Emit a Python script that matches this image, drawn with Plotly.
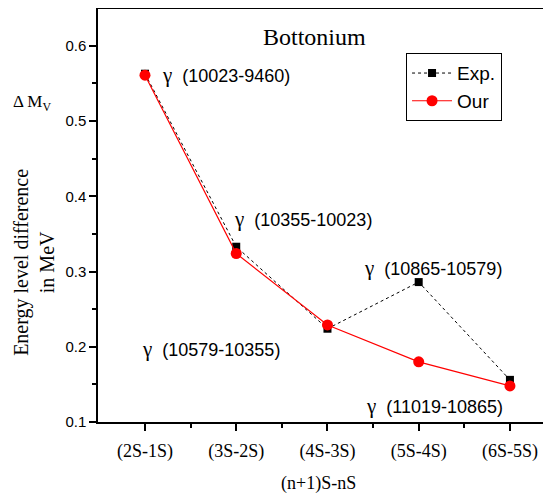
import plotly.graph_objects as go

categories = ["(2S-1S)", "(3S-2S)", "(4S-3S)", "(5S-4S)", "(6S-5S)"]
positions = [1, 2, 3, 4, 5]
exp_values = [0.563, 0.333, 0.224, 0.286, 0.156]
our_values = [0.561, 0.324, 0.229, 0.180, 0.148]
labels = ["(10023-9460)", "(10355-10023)", "(10579-10355)",
          "(10865-10579)", "(11019-10865)"]
label_pos = [(1.16, 0.561), (1.95, 0.370), (0.945, 0.197), (3.38, 0.305), (3.40, 0.121)]

SERIF = "Liberation Serif, Times New Roman, serif"
SANS = "Liberation Sans, Arial, sans-serif"

fig = go.Figure()
fig.add_trace(go.Scatter(x=positions, y=exp_values, name="Exp.", mode="lines+markers",
                         line=dict(color="black", width=1, dash="dot"),
                         marker=dict(symbol="square", size=8, color="black")))
fig.add_trace(go.Scatter(x=positions, y=our_values, name="Our", mode="lines+markers",
                         line=dict(color="red", width=1.2),
                         marker=dict(symbol="circle", size=11, color="red")))

for t, (x, y) in zip(labels, label_pos):
    fig.add_annotation(x=x, y=y, xref="x", yref="y",
                       text="<span style='font-family:Liberation Serif;font-size:21px'>γ</span>  " + t,
                       showarrow=False, xanchor="left", yanchor="middle",
                       font=dict(family=SANS, size=18, color="black"))

fig.add_annotation(x=0.479, y=0.932, xref="paper", yref="paper", text="Bottonium", showarrow=False,
                   xanchor="center", yanchor="middle",
                   font=dict(family=SERIF, size=24, color="black"))
fig.add_annotation(x=-0.146, y=0.772, xref="paper", yref="paper", text="Δ M<sub>V</sub>", showarrow=False,
                   xanchor="center", yanchor="middle",
                   font=dict(family=SERIF, size=17, color="black"))
fig.add_annotation(x=-0.142, y=0.387, xref="paper", yref="paper", text="Energy level difference<br>in MeV",
                   showarrow=False, textangle=-90, xanchor="center", yanchor="middle",
                   font=dict(family=SERIF, size=20, color="black"))
fig.add_annotation(x=0.486, y=-0.148, xref="paper", yref="paper", text="(n+1)S-nS", showarrow=False,
                   xanchor="center", yanchor="middle",
                   font=dict(family=SERIF, size=18, color="black"))

fig.update_layout(
    width=543, height=487,
    margin=dict(l=90, r=0, t=1, b=73),
    plot_bgcolor="white", paper_bgcolor="white",
    showlegend=True,
    legend=dict(x=0.68, y=0.893, xanchor="left", yanchor="top",
                bordercolor="black", borderwidth=1, bgcolor="white",
                font=dict(family=SANS, size=19, color="black"),
                tracegroupgap=0, itemwidth=40),
)
fig.update_xaxes(range=[0.485, 5.45], tickvals=positions, ticktext=categories,
                 showgrid=False, zeroline=False, showline=True, linecolor="black", linewidth=1.5,
                 mirror=True, ticks="outside", ticklen=7, tickcolor="black", tickwidth=1.5,
                 ticklabelstandoff=5,
                 tickfont=dict(family=SERIF, size=18, color="black"),
                 minor=dict(tickvals=[1.5, 2.5, 3.5, 4.5], ticks="outside", ticklen=4,
                            tickcolor="black", tickwidth=1.5))
fig.update_yaxes(range=[0.1, 0.649], tickvals=[0.1, 0.2, 0.3, 0.4, 0.5, 0.6],
                 ticktext=["0.1", "0.2", "0.3", "0.4", "0.5", "0.6"],
                 showgrid=False, zeroline=False, showline=True, linecolor="black", linewidth=1.5,
                 ticks="outside", ticklen=7, tickcolor="black", tickwidth=1.5,
                 tickfont=dict(family=SANS, size=15, color="black"),
                 minor=dict(tickvals=[0.15, 0.25, 0.35, 0.45, 0.55], ticks="outside", ticklen=4,
                            tickcolor="black", tickwidth=1.5))

fig.write_html("out.html")
